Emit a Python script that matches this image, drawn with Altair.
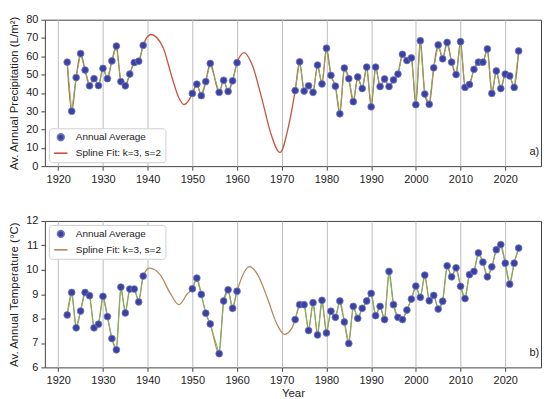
import altair as alt
import pandas as pd

# ---------------- data ----------------
years = list(range(1922, 1940)) + [1950, 1951, 1952, 1953, 1954, 1956, 1957, 1958, 1959, 1960] + list(range(1973, 2024))

precip = [56.8, 30.0, 48.4, 61.5, 52.5, 43.9, 47.8, 44.0, 53.4, 47.8, 57.5, 65.6, 46.2, 43.9, 50.3, 56.6, 57.3, 66.0,
          39.7, 44.8, 38.5, 46.2, 56.1, 40.3, 46.9, 40.8, 46.6, 56.5,
          41.3, 57.0, 41.0, 43.9, 40.3, 55.2, 44.9, 64.4, 49.6, 43.7, 28.6, 53.6, 47.8, 35.2, 48.7, 42.4, 54.1,
          32.4, 54.1, 43.5, 47.6, 43.5, 47.1, 50.3, 61.1, 57.7, 59.1, 33.6, 68.5, 39.4, 33.8, 53.7, 66.2, 58.6,
          67.6, 56.8, 50.0, 68.0, 43.0, 44.6, 52.9, 56.8, 56.8, 64.0, 39.7, 52.0, 42.4, 50.3, 49.3, 43.0, 62.9]

temp = [8.15, 9.07, 7.62, 8.31, 9.07, 8.94, 7.62, 7.77, 8.91, 8.08, 7.18, 6.72, 9.29, 8.23, 9.21, 9.21, 8.68, 9.74,
        9.22, 9.66, 8.99, 8.22, 7.78, 6.56, 8.72, 9.18, 8.42, 9.12,
        7.96, 8.57, 8.57, 7.51, 8.65, 7.33, 8.75, 7.41, 8.30, 8.05, 8.72, 7.86, 6.98, 8.50, 8.01, 8.42, 8.72,
        9.03, 8.12, 8.50, 7.96, 9.93, 8.57, 8.05, 7.96, 8.35, 8.80, 9.33, 8.87, 9.78, 8.73, 8.95, 8.39, 8.71,
        10.16, 9.71, 10.08, 9.32, 8.82, 9.80, 9.93, 10.69, 10.31, 9.71, 10.12, 10.82, 11.03, 10.27, 9.41, 10.27, 10.89]

# spline fit values read inside the data gaps
spline_gap_years_a = [1940.7, 1943.4, 1945.5, 1947.0, 1948.1, 1949.3, 1961.6, 1963.4, 1965.7, 1967.5, 1969.6, 1971.6]
spline_gap_vals_a = [71.9, 65.1, 48.0, 37.2, 33.6, 36.3, 62.0, 55.2, 35.4, 18.3, 7.5, 22.8]
spline_gap_years_b = [1940.4, 1942.8, 1945.0, 1947.0, 1948.9, 1962.8, 1964.6, 1966.9, 1968.8, 1970.6, 1972.3]
spline_gap_vals_b = [10.07, 9.80, 9.05, 8.57, 9.02, 10.13, 9.80, 8.78, 7.82, 7.35, 7.62]

legend_labels = ["Annual Average", "Spline Fit: k=3, s=2"]
x_ticks = [1920, 1930, 1940, 1950, 1960, 1970, 1980, 1990, 2000, 2010, 2020]
y_ticks_a = [0, 10, 20, 30, 40, 50, 60, 70, 80]
y_ticks_b = [6, 7, 8, 9, 10, 11, 12]
panel_tags = ["a)", "b)"]

PT_FILL = "#3c40a0"
PT_EDGE = "#6d78c0"
GREEN = "#7db562"
FONT = "Liberation Sans"


def seg_ids(ys):
    segs, s = [], 0
    for i, y in enumerate(ys):
        if i > 0 and y - ys[i - 1] > 5:
            s += 1
        segs.append(s)
    return segs


def make_legend(orient):
    return alt.Legend(
        title=None, orient=orient, offset=4,
        fillColor="white", strokeColor="#cfcfcf", cornerRadius=3, padding=4,
        labelFont=FONT, labelFontSize=10, labelColor="#222222",
        rowPadding=1, labelOffset=7, symbolStrokeWidth=1.6, symbolOpacity=1,
    )


def panel(values, gap_years, gap_vals, spline_color, ytitle, ydom, yticks,
          legend_orient, tag, tag_y, xtitle):
    pts = pd.DataFrame({"year": years, "value": values, "seg": seg_ids(years)})
    pts["series"] = legend_labels[0]
    spl = pd.DataFrame({"year": years + gap_years, "value": values + gap_vals}).sort_values("year")
    tags = pd.DataFrame({"year": [2027.6], "value": [tag_y], "t": [tag]})

    x_enc = alt.X("year:Q",
                  scale=alt.Scale(domain=[1917, 2028], nice=False, zero=False),
                  axis=alt.Axis(values=x_ticks, tickCount=40, format="d", grid=True,
                                gridColor="#bdbdbd", gridWidth=1,
                                title=xtitle if xtitle else None, titlePadding=2))
    y_enc = alt.Y("value:Q",
                  scale=alt.Scale(domain=ydom, nice=False, zero=False),
                  axis=alt.Axis(values=yticks, tickCount=40, grid=False,
                                title=ytitle, labelOverlap=False, format="d"))

    leg = make_legend(legend_orient)
    spline = alt.Chart(spl).mark_line(interpolate="monotone", strokeWidth=1.3,
                                      color=spline_color).encode(x=x_enc, y=y_enc)
    green = alt.Chart(pts).mark_line(color=GREEN, strokeWidth=1).encode(
        x=x_enc, y=y_enc, detail="seg:N")
    dots = alt.Chart(pts).mark_point(filled=True, strokeWidth=0.8, opacity=1).encode(
        x=x_enc, y=y_enc,
        fill=alt.Fill("series:N", scale=alt.Scale(domain=legend_labels, range=[PT_FILL, "transparent"]),
                      legend=leg),
        stroke=alt.Stroke("series:N", scale=alt.Scale(domain=legend_labels, range=[PT_EDGE, spline_color]),
                          legend=leg),
        shape=alt.Shape("series:N", scale=alt.Scale(domain=legend_labels, range=["circle", "stroke"]),
                        legend=leg),
        size=alt.Size("series:N", scale=alt.Scale(domain=legend_labels, range=[46, 180]),
                      legend=leg),
    )
    label = alt.Chart(tags).mark_text(align="right", baseline="middle", fontSize=11,
                                      font=FONT, color="#222222").encode(
        x=x_enc, y=y_enc, text="t:N")
    return alt.layer(spline, green, dots, label).properties(width=498, height=147)


top = panel(precip, spline_gap_years_a, spline_gap_vals_a, "#c4553f",
            "Av. Annual Precipitation (L/m²)", [0, 80], y_ticks_a,
            "bottom-left", panel_tags[0], 7.5, None)
bottom = panel(temp, spline_gap_years_b, spline_gap_vals_b, "#b5895e",
               "Av. Annual Temperature (°C)", [6, 12], y_ticks_b,
               "top-left", panel_tags[1], 6.57, "Year")

chart = alt.vconcat(top, bottom, spacing=29).resolve_scale(
    fill="independent", stroke="independent", shape="independent", size="independent"
).resolve_legend(
    fill="independent", stroke="independent", shape="independent", size="independent"
).properties(
    padding={"left": 0, "top": 4, "right": 0, "bottom": 0}
).configure(font=FONT).configure_axis(
    labelFont=FONT, titleFont=FONT, labelFontSize=11, titleFontSize=11.5,
    titleFontWeight="normal", labelColor="#222222", titleColor="#222222",
    tickColor="#444444", tickSize=4, domain=False, labelPadding=3, titlePadding=6,
).configure_view(stroke="#444444", strokeWidth=1)

chart.save("out.html", embed_options={"renderer": "svg", "actions": False})
